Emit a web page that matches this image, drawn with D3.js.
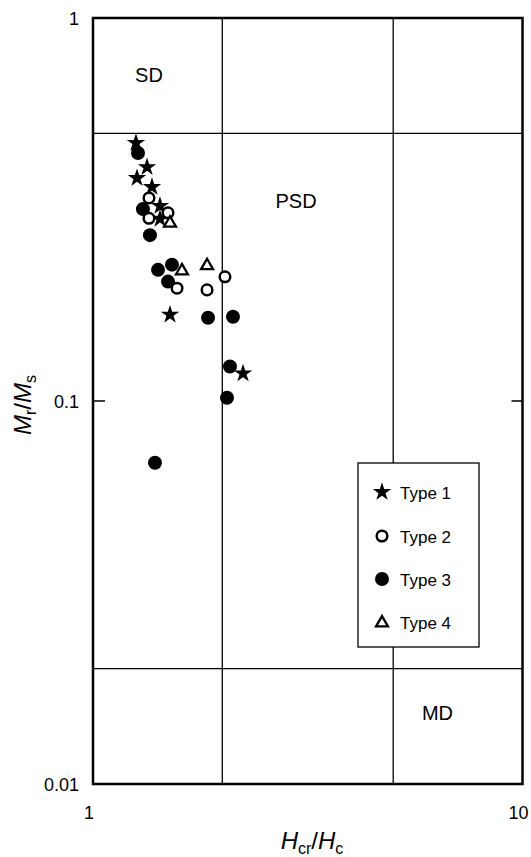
<!DOCTYPE html>
<html>
<head>
<meta charset="utf-8">
<script src="https://cdn.jsdelivr.net/npm/d3@7"></script>
<style>
  html, body { margin: 0; padding: 0; background: #fff; }
  svg { display: block; }
  text { font-family: "Liberation Sans", Arial, sans-serif; fill: #000; }
</style>
</head>
<body>
<svg id="chart" width="531" height="857"></svg>
<script>
// Hysteresis ratios (Day plot): Hcr/Hc on x, Mr/Ms on y
const type1X = [1.259, 1.336, 1.266, 1.372, 1.432, 1.432, 1.511, 2.235];
const type1Y = [0.472, 0.408, 0.382, 0.362, 0.323, 0.299, 0.168, 0.118];

const type2X = [1.350, 1.350, 1.495, 1.569, 1.843, 2.029];
const type2Y = [0.339, 0.300, 0.310, 0.197, 0.195, 0.211];

const type3X = [1.273, 1.307, 1.357, 1.417, 1.527, 1.495, 1.853, 2.118, 2.084, 2.051, 1.394];
const type3Y = [0.444, 0.317, 0.271, 0.220, 0.227, 0.205, 0.165, 0.166, 0.123, 0.102, 0.069];

const type4X = [1.511, 1.611, 1.843];
const type4Y = [0.293, 0.220, 0.227];

// Domain boundaries and region labels
const xBounds = [2, 5];
const yBounds = [0.5, 0.02];
const regions = [
  { name: "SD",  x: 1.35, y: 0.68 },
  { name: "PSD", x: 2.97, y: 0.319 },
  { name: "MD",  x: 6.34, y: 0.0147 }
];

const xTicks = [1, 10];
const yTicks = [0.01, 0.1, 1];
const yTickFmt = ["0.01", "0.1", "1"];

const seriesNames = ["Type 1", "Type 2", "Type 3", "Type 4"];

const svg = d3.select("#chart");
const plotL = 93, plotR = 522.5, plotT = 18, plotB = 784;

const x = d3.scaleLog().domain([1, 10]).range([plotL, plotR]);
const y = d3.scaleLog().domain([0.01, 1]).range([plotB, plotT]);

// boundary lines
svg.append("g").selectAll("line").data(xBounds).join("line")
  .attr("x1", d => x(d)).attr("x2", d => x(d))
  .attr("y1", plotT).attr("y2", plotB)
  .attr("stroke", "#000").attr("stroke-width", 1.3);
svg.append("g").selectAll("line").data(yBounds).join("line")
  .attr("x1", plotL).attr("x2", plotR)
  .attr("y1", d => y(d)).attr("y2", d => y(d))
  .attr("stroke", "#000").attr("stroke-width", 1.3);

// inner ticks at 0.1 on both sides
const innerTicks = [0.1];
svg.append("g").selectAll("line").data(innerTicks).join("line")
  .attr("x1", plotL).attr("x2", plotL + 12)
  .attr("y1", d => y(d)).attr("y2", d => y(d))
  .attr("stroke", "#000").attr("stroke-width", 1.5);
svg.append("g").selectAll("line").data(innerTicks).join("line")
  .attr("x1", plotR - 11).attr("x2", plotR)
  .attr("y1", d => y(d)).attr("y2", d => y(d))
  .attr("stroke", "#000").attr("stroke-width", 1.5);

// region labels
svg.append("g").selectAll("text").data(regions).join("text")
  .attr("x", d => x(d.x)).attr("y", d => y(d.y))
  .attr("text-anchor", "middle")
  .attr("font-size", 20)
  .text(d => d.name);

// tick labels
svg.append("g").selectAll("text").data(yTicks).join("text")
  .attr("x", 79).attr("y", d => y(d) + 6.5)
  .attr("text-anchor", "end").attr("font-size", 18)
  .text((d, i) => yTickFmt[i]);
svg.append("g").selectAll("text").data(xTicks).join("text")
  .attr("x", d => x(d) - 4).attr("y", 819)
  .attr("text-anchor", "middle").attr("font-size", 18)
  .text(d => d3.format("d")(d));

// axis titles
const xt = svg.append("text").attr("x", 312).attr("y", 849)
  .attr("text-anchor", "middle").attr("font-size", 24);
xt.append("tspan").attr("font-style", "italic").text("H");
xt.append("tspan").attr("font-size", 16).attr("dy", 5).text("cr");
xt.append("tspan").attr("dy", -5).text("/");
xt.append("tspan").attr("font-style", "italic").text("H");
xt.append("tspan").attr("font-size", 16).attr("dy", 5).text("c");

const yt = svg.append("text")
  .attr("transform", "translate(31,405) rotate(-90)")
  .attr("text-anchor", "middle").attr("font-size", 24);
yt.append("tspan").attr("font-style", "italic").text("M");
yt.append("tspan").attr("font-size", 16).attr("dy", 5).text("r");
yt.append("tspan").attr("dy", -5).text("/");
yt.append("tspan").attr("font-style", "italic").text("M");
yt.append("tspan").attr("font-size", 16).attr("dy", 5).text("s");

// marker styles
const star = d3.symbol().type(d3.symbolStar).size(105)();
const tri = d3.symbol().type(d3.symbolTriangle).size(62)();

function drawType3(g, pts) {
  g.selectAll("circle").data(pts).join("circle")
    .attr("cx", d => d[0]).attr("cy", d => d[1]).attr("r", 7)
    .attr("fill", "#000");
}
function drawType1(g, pts) {
  g.selectAll("path").data(pts).join("path")
    .attr("d", star)
    .attr("transform", d => `translate(${d[0]},${d[1]})`)
    .attr("fill", "#000");
}
function drawType2(g, pts) {
  g.selectAll("circle").data(pts).join("circle")
    .attr("cx", d => d[0]).attr("cy", d => d[1]).attr("r", 5.3)
    .attr("fill", "#fff").attr("stroke", "#000").attr("stroke-width", 2.5);
}
function drawType4(g, pts) {
  g.selectAll("path").data(pts).join("path")
    .attr("d", tri)
    .attr("transform", d => `translate(${d[0]},${d[1] + 1})`)
    .attr("fill", "#fff").attr("stroke", "#000").attr("stroke-width", 2.3)
    .attr("stroke-linejoin", "miter");
}

const pts = (xs, ys) => xs.map((v, i) => [x(v), y(ys[i])]);
drawType3(svg.append("g"), pts(type3X, type3Y));
drawType1(svg.append("g"), pts(type1X, type1Y));
drawType2(svg.append("g"), pts(type2X, type2Y));
drawType4(svg.append("g"), pts(type4X, type4Y));

// legend
const lg = svg.append("g");
lg.append("rect").attr("x", 358).attr("y", 463).attr("width", 121).attr("height", 184)
  .attr("fill", "#fff").attr("stroke", "#000").attr("stroke-width", 1.3);
const legY = [492, 536, 579, 622];
const drawers = [drawType1, drawType2, drawType3, drawType4];
seriesNames.forEach((name, i) => {
  drawers[i](lg.append("g"), [[382, legY[i]]]);
  lg.append("text").attr("x", 400).attr("y", legY[i] + 7)
    .attr("font-size", 17).text(name);
});

// plot frame
svg.append("rect").attr("x", plotL).attr("y", plotT)
  .attr("width", plotR - plotL).attr("height", plotB - plotT)
  .attr("fill", "none").attr("stroke", "#000").attr("stroke-width", 2.5);
</script>
</body>
</html>
